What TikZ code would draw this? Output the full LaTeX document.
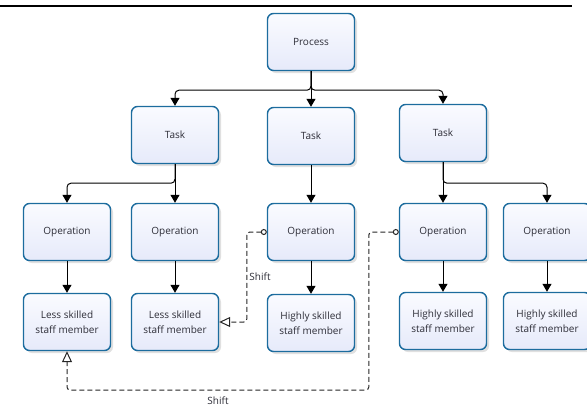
\documentclass[tikz,border=0pt]{standalone}
\usepackage{fontspec}
\setmainfont{Open Sans}
\usetikzlibrary{arrows.meta,shadows}
\definecolor{boxblue}{RGB}{28,108,158}
\definecolor{boxtop}{RGB}{250,251,255}
\definecolor{boxbot}{RGB}{230,234,250}
\definecolor{txt}{RGB}{45,45,55}
\begin{document}
\begin{tikzpicture}[x=1pt,y=-1pt,
  box/.style={draw=boxblue, line width=1.4pt, rounded corners=6pt,
    minimum width=87pt, minimum height=57pt, top color=boxtop, bottom color=boxbot,
    drop shadow={shadow xshift=2.5pt, shadow yshift=-2.5pt, opacity=0.2, fill=black!60},
    font=\fontsize{10}{14.5}\selectfont, align=center, text=txt, inner sep=2pt},
  conn/.style={draw=black, line width=1pt, rounded corners=4pt,
    -{Triangle[length=8pt,width=9pt]}},
  shiftconn/.style={draw=black!85, line width=1pt, dash pattern=on 5pt off 3pt, rounded corners=3pt,
    {Circle[open,length=6pt,width=6pt,fill=white]}-{Triangle[open,length=11pt,width=10pt,fill=white]}},
  lbl/.style={font=\fontsize{10}{12}\selectfont, text=txt}]
\useasboundingbox (0,0) rectangle (587,408);
\coordinate (la) at (0,6);
\coordinate (lb) at (572,6);
\draw[line width=1.6pt] (la) -- (lb);

\node[box] (p) at (311,42) {Process};
\node[box] (t1) at (175,135) {Task};
\node[box] (t2) at (311,136) {Task};
\node[box] (t3) at (443,133) {Task};

\node[box] (o1) at (67,232) {Operation};
\node[box] (o2) at (175,232) {Operation};
\node[box] (o3) at (311,232) {Operation};
\node[box] (o4) at (443,232) {Operation};
\node[box] (o5) at (547,232) {Operation};

\node[box] (s1) at (67,322) {Less skilled\\staff member};
\node[box] (s2) at (175,322) {Less skilled\\staff member};
\node[box] (s3) at (311,323) {Highly skilled\\staff member};
\node[box] (s4) at (443,321) {Highly skilled\\staff member};
\node[box] (s5) at (547,321) {Highly skilled\\staff member};

\draw[conn] (p.south) -- (t2.north);
\draw[conn] (p.south) -- ++(0,19) -| (t1.north);
\draw[conn] (p.south) -- ++(0,19) -| (t3.north);

\draw[conn] (t1.south) -- (o2.north);
\draw[conn] (t1.south) -- ++(0,19) -| (o1.north);
\draw[conn] (t2.south) -- (o3.north);
\draw[conn] (t3.south) -- (o4.north);
\draw[conn] (t3.south) -- ++(0,21) -| (o5.north);

\foreach \i in {1,...,5}{\draw[conn] (o\i.south) -- (s\i.north);}

\draw[shiftconn] (o3.west) -- ++(-20,0) |- (s2.east);
\node[lbl] (sh1) at (260,277) {Shift};
\draw[shiftconn] (o4.west) -- ++(-30,0) -- ++(0,158) -| (s1.south);
\node[lbl] (sh2) at (218,401) {Shift};
\end{tikzpicture}
\end{document}
